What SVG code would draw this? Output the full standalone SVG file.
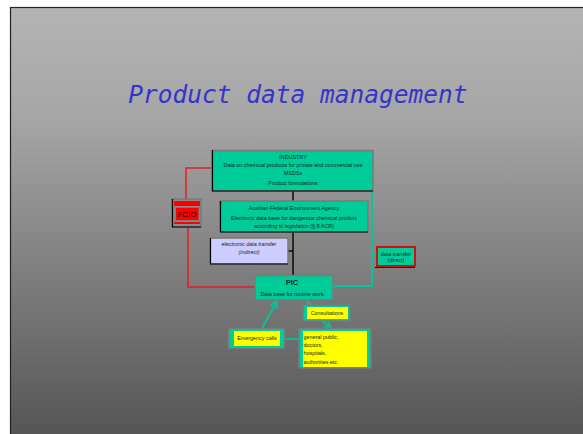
<svg xmlns="http://www.w3.org/2000/svg" width="583" height="434" viewBox="0 0 583 434">
<defs>
<linearGradient id="bg" x1="0" y1="0" x2="0" y2="1">
<stop offset="0" stop-color="#b4b4b4"/>
<stop offset="0.25" stop-color="#a6a6a6"/>
<stop offset="1" stop-color="#525252"/>
</linearGradient>
<marker id="arr" viewBox="0 0 10 10" refX="9" refY="5" markerWidth="9" markerHeight="9" orient="auto" markerUnits="userSpaceOnUse">
<path d="M1,1 L9,5 L1,9" fill="none" stroke="#00c896" stroke-width="1.8"/>
</marker>
<style>
.t{font-family:"Liberation Sans","DejaVu Sans",sans-serif;font-size:5.4px;fill:#0f2a1f}
.c{text-anchor:middle}
.box{stroke:#7a7a7a;stroke-width:1.5}
.sh{stroke:#000;stroke-width:1.2;fill:none}
.teal{fill:#00cc99}
.tl{stroke:#00c896;stroke-width:1.8;fill:none}
.rl{stroke:#e02020;stroke-width:1.5;fill:none}
.bl{stroke:#000;stroke-width:1.4;fill:none}
.yel{fill:#ffff00}
</style>
</defs>
<rect x="0" y="0" width="583" height="434" fill="#fff"/>
<rect x="10.5" y="7.5" width="580" height="440" fill="url(#bg)" stroke="#222" stroke-width="1.2"/>
<text x="298" y="103" text-anchor="middle" font-family="DejaVu Sans Mono,monospace" font-style="italic" font-size="24.5" fill="#3535cc">Product data management</text>

<g id="connectors">
<polyline class="rl" points="212,168 186,168 186,200"/>
<polyline class="rl" points="188,227 188,287 255,287"/>
<line class="bl" x1="293" y1="191" x2="293" y2="201"/>
<line class="bl" x1="293" y1="232" x2="293" y2="276"/>
<line class="bl" x1="288" y1="251" x2="293" y2="251"/>
<polyline class="tl" points="372,191 372,286 333,286"/>
<line class="tl" x1="372" y1="255" x2="377" y2="255"/>
<line stroke="#00c896" stroke-width="1" x1="328" y1="261" x2="328" y2="263"/>
<line class="tl" x1="262" y1="328" x2="277" y2="301" marker-end="url(#arr)"/>
<line class="tl" x1="285" y1="339" x2="299" y2="339"/>
<line class="tl" x1="306" y1="300" x2="311" y2="305"/>
<line class="tl" x1="322" y1="321" x2="331" y2="328" marker-end="url(#arr)"/>
</g>

<g id="industry">
<rect class="box teal" x="212" y="150.5" width="161" height="40.5"/>
<polyline class="sh" points="212.5,150 212.5,191 373,191"/>
<text class="t c" x="293" y="159" font-size="6">INDUSTRY</text>
<text class="t c" x="293" y="167">Data on chemical products for private and commercial use</text>
<text class="t c" x="293" y="175">MSDSs</text>
<text class="t c" x="293" y="184.5">Product formulations</text>
</g>

<g id="agency">
<rect class="box teal" x="220" y="201" width="148" height="31"/>
<polyline class="sh" points="220.5,201 220.5,232 368,232"/>
<text class="t c" x="294" y="210">Austrian Federal Environment Agency</text>
<text class="t c" x="294" y="219.5">Electronic data base for dangerous chemical produts</text>
<text class="t c" x="294" y="227.5">according to legislation (§ 8 ACR)</text>
</g>

<g id="fcio">
<rect x="172" y="199" width="29" height="28" fill="#8a8a8a" stroke="#6e6e6e" stroke-width="1"/>
<polyline class="sh" points="172.5,199 172.5,227 201,227"/>
<rect x="174" y="201" width="26" height="5" fill="#ff0000"/>
<rect x="175.5" y="207.5" width="23.5" height="13" fill="#ff0000" stroke="#7a7a7a" stroke-width="1"/>
<rect x="174" y="222" width="26" height="2" fill="#ff0000"/>
<text x="187" y="217" text-anchor="middle" font-family="Liberation Sans,DejaVu Sans,sans-serif" font-size="8" fill="#220000">FCIO</text>
</g>

<g id="edt">
<rect class="box" x="210" y="238" width="78" height="26" fill="#ccccff"/>
<polyline class="sh" points="210.5,238 210.5,264 288,264"/>
<text class="t c" x="249" y="245.5" font-style="italic" font-size="4.8">electronic data transfer</text>
<text class="t c" x="249" y="253.5" font-style="italic" font-size="4.8">(indirect)</text>
</g>

<g id="direct">
<rect x="377" y="247" width="38" height="19" fill="#00cc99" stroke="#e00000" stroke-width="1.8"/>
<line class="sh" x1="375" y1="267.5" x2="415" y2="267.5"/>
<text class="t c" x="396" y="255.5" font-size="4.8">data transfer</text>
<text class="t c" x="396" y="262" font-size="4.8">(direct)</text>
</g>

<g id="pic">
<rect class="box teal" x="255" y="275.5" width="78" height="24.5" stroke="#666"/>
<text x="292" y="285" text-anchor="middle" font-family="Liberation Sans,DejaVu Sans,sans-serif" font-weight="bold" font-size="7.5" fill="#0f2a1f">PIC</text>
<text class="t c" x="292" y="295.5" font-size="5.6">Data base for routine work</text>
</g>

<g id="consultations">
<rect x="303" y="305" width="47" height="16" fill="#00cc99" stroke="#7a7a7a" stroke-width="1.5"/>
<rect class="yel" x="307" y="307" width="41" height="12"/>
<text class="t c" x="327" y="315">Consultations</text>
</g>

<g id="emergency">
<rect x="228.5" y="328.5" width="56" height="20" fill="#00cc99" stroke="#7a7a7a" stroke-width="1.5"/>
<rect class="yel" x="234" y="331" width="46" height="15"/>
<text class="t c" x="257" y="340">Emergency calls</text>
</g>

<g id="public">
<rect x="299" y="328.5" width="72" height="39.5" fill="#00cc99" stroke="#7a7a7a" stroke-width="1.5"/>
<rect class="yel" x="303" y="331" width="64" height="36"/>
<text class="t" x="303.5" y="338.5">general public,</text>
<text class="t" x="303.5" y="347">doctors,</text>
<text class="t" x="303.5" y="355">hospitals,</text>
<text class="t" x="303.5" y="363.5">authorities etc.</text>
</g>
</svg>
